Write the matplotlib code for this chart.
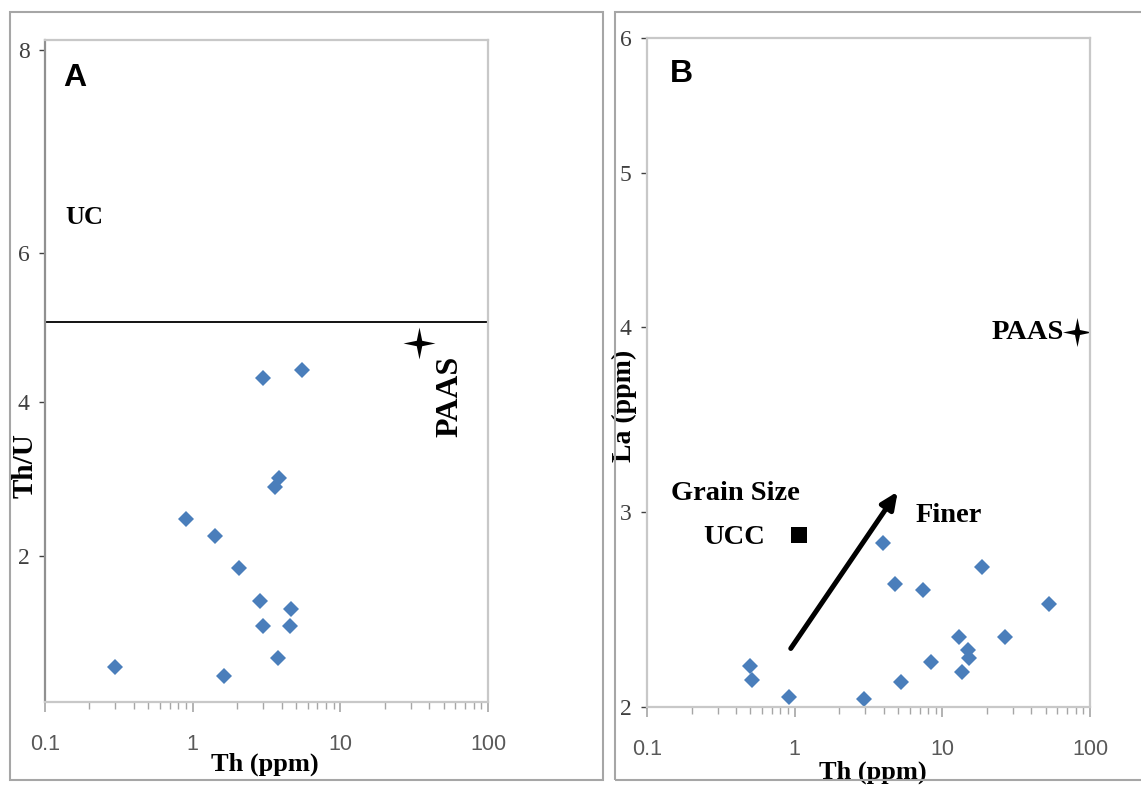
import numpy as np
import matplotlib
matplotlib.use("Agg")
import matplotlib.pyplot as plt
from matplotlib.patches import Rectangle
from matplotlib.ticker import FixedLocator, FuncFormatter, LogLocator, NullFormatter

plt.rcParams['font.family'] = ['Liberation Serif', 'DejaVu Sans']

# panel A: Th (ppm) vs Th/U
a_th = [0.30, 0.90, 1.41, 2.06, 2.87, 2.99, 4.61, 4.55, 3.80, 1.63, 3.86, 3.63, 3.00, 5.47]
a_thu = [0.55, 2.48, 2.26, 1.84, 1.41, 1.09, 1.31, 1.09, 0.67, 0.44, 3.01, 2.90, 4.32, 4.43]
a_paas = (34.0, 4.79)
a_uc_line = 5.07

# panel B: Th (ppm) vs La (ppm)
b_th = [3.94, 4.78, 7.36, 18.5, 52.9, 13.0, 26.5, 14.8, 15.2, 8.37, 13.5, 5.22, 0.497, 0.51, 0.91, 2.93]
b_la = [2.84, 2.63, 2.60, 2.72, 2.53, 2.36, 2.36, 2.29, 2.25, 2.23, 2.18, 2.13, 2.21, 2.14, 2.05, 2.04]
b_paas = (81.5, 3.97)
b_ucc = (1.07, 2.88)
b_arrow = ((0.94, 2.30), (4.98, 3.11))

x_ticks = [0.1, 1, 10, 100]
a_yticks = [2, 4, 6, 8]
b_yticks = [2, 3, 4, 5, 6]

# the printed y axes are not evenly spaced: spacing (in px) between the labelled ticks
a_ygrid = [146, 300, 449, 652]
b_ygrid = [0, 195, 380, 534, 669]

BLUE = '#4A7EBB'
GREY = '#a6a6a6'
STAR = [(0, 1), (0.17, 0.17), (1, 0), (0.17, -0.17), (0, -1), (-0.17, -0.17), (-1, 0), (-0.17, 0.17)]


def piecewise(vals, pos):
    vals = np.asarray(vals, float)
    pos = np.asarray(pos, float)

    def conv(v, a, b):
        v = np.asarray(v, float)
        shp = v.shape
        v = np.atleast_1d(v)
        out = np.interp(v, a, b)
        lo = v < a[0]
        hi = v > a[-1]
        out[lo] = b[0] + (v[lo] - a[0]) * (b[1] - b[0]) / (a[1] - a[0])
        out[hi] = b[-1] + (v[hi] - a[-1]) * (b[-1] - b[-2]) / (a[-1] - a[-2])
        return out.reshape(shp)

    return (lambda v: conv(v, vals, pos)), (lambda p: conv(p, pos, vals))


def style_axes(ax, yticks, ygrid, ylim):
    ax.set_xscale('log')
    ax.set_xlim(0.1, 100)
    ax.set_yscale('function', functions=piecewise(yticks, ygrid))
    ax.set_ylim(*ylim)
    ax.xaxis.set_major_locator(FixedLocator(x_ticks))
    ax.xaxis.set_major_formatter(FuncFormatter(lambda v, p: f'{v:g}'))
    ax.xaxis.set_minor_locator(LogLocator(base=10, subs=np.arange(2, 10)))
    ax.xaxis.set_minor_formatter(NullFormatter())
    ax.yaxis.set_major_locator(FixedLocator(yticks))
    ax.yaxis.set_major_formatter(FuncFormatter(lambda v, p: f'{v:g}'))
    ax.yaxis.set_minor_locator(FixedLocator([]))
    ax.tick_params(axis='x', which='major', length=7, width=1.2, color=GREY, pad=16,
                   labelsize=15.5, labelcolor='#595959', labelfontfamily='Liberation Sans')
    ax.tick_params(axis='x', which='minor', length=5, width=1.0, color=GREY)
    ax.tick_params(axis='y', length=4, width=1.0, color='#404040', pad=7,
                   labelsize=17, labelcolor='#404040')
    for s in ax.spines.values():
        s.set_color('#c8c8c8')
        s.set_linewidth(1.6)


fig = plt.figure(figsize=(11.41, 7.87), dpi=100)

# outer frames of the two panels
fig.add_artist(Rectangle((0.0088, 0.0089), 0.5197, 0.9759, transform=fig.transFigure,
                         fill=False, edgecolor=GREY, linewidth=1.5))
fig.add_artist(Rectangle((0.539, 0.0089), 0.47, 0.9759, transform=fig.transFigure,
                         fill=False, edgecolor=GREY, linewidth=1.5))

# ---- panel A
ax1 = fig.add_axes([0.0394, 0.1080, 0.3883, 0.8412])
style_axes(ax1, a_yticks, a_ygrid, (0.10, 8.1))
ax1.spines['left'].set_color('#909090')
ax1.plot(a_th, a_thu, 'D', color=BLUE, markersize=8.5, markeredgewidth=0)
ax1.axhline(a_uc_line, color='black', linewidth=1.3)
ax1.plot(*a_paas, marker=STAR, color='black', markersize=23, markeredgewidth=0)
ax1.text(55.2, 4.07, 'PAAS', rotation=90, ha='center', va='center', fontsize=23, fontweight='bold')
ax1.text(0.184, 6.35, 'UC', ha='center', va='center', fontsize=19, fontweight='bold')
ax1.text(0.068, 0.943, 'A', transform=ax1.transAxes, ha='center', va='center',
         fontsize=23, fontweight='bold', family='Liberation Sans')
ax1.set_xlabel('Th (ppm)', fontsize=19, fontweight='bold')
ax1.xaxis.set_label_coords(0.497, -0.076)
ax1.set_ylabel('Th/U', fontsize=21, fontweight='bold')
ax1.yaxis.set_label_coords(-0.014, 0.357)

# ---- panel B
ax2 = fig.add_axes([0.5671, 0.1017, 0.3883, 0.8501])
style_axes(ax2, b_yticks, b_ygrid, (2, 6))
ax2.plot(b_th, b_la, 'D', color=BLUE, markersize=8.5, markeredgewidth=0)
ax2.plot(*b_ucc, 's', color='black', markersize=11, markeredgewidth=0)
ax2.plot(*b_paas, marker=STAR, color='black', markersize=21, markeredgewidth=0)
ax2.annotate('', xy=b_arrow[1], xytext=b_arrow[0],
             arrowprops=dict(arrowstyle='-|>,head_length=1.0,head_width=0.45',
                             color='black', lw=3.6, shrinkA=0, shrinkB=0))
ax2.text(0.394, 3.10, 'Grain Size', ha='center', va='center', fontsize=20.5, fontweight='bold')
ax2.text(0.389, 2.87, 'UCC', ha='center', va='center', fontsize=20.5, fontweight='bold')
ax2.text(11.1, 2.98, 'Finer', ha='center', va='center', fontsize=20.5, fontweight='bold')
ax2.text(66.5, 3.97, 'PAAS', ha='right', va='center', fontsize=20.5, fontweight='bold')
ax2.text(0.077, 0.946, 'B', transform=ax2.transAxes, ha='center', va='center',
         fontsize=23, fontweight='bold', family='Liberation Sans')
ax2.set_xlabel('Th (ppm)', fontsize=19, fontweight='bold')
ax2.xaxis.set_label_coords(0.51, -0.08)
ax2.set_ylabel('La (ppm)', fontsize=20, fontweight='bold')
ax2.yaxis.set_label_coords(-0.023, 0.45)

fig.savefig('out.png', dpi=100)
